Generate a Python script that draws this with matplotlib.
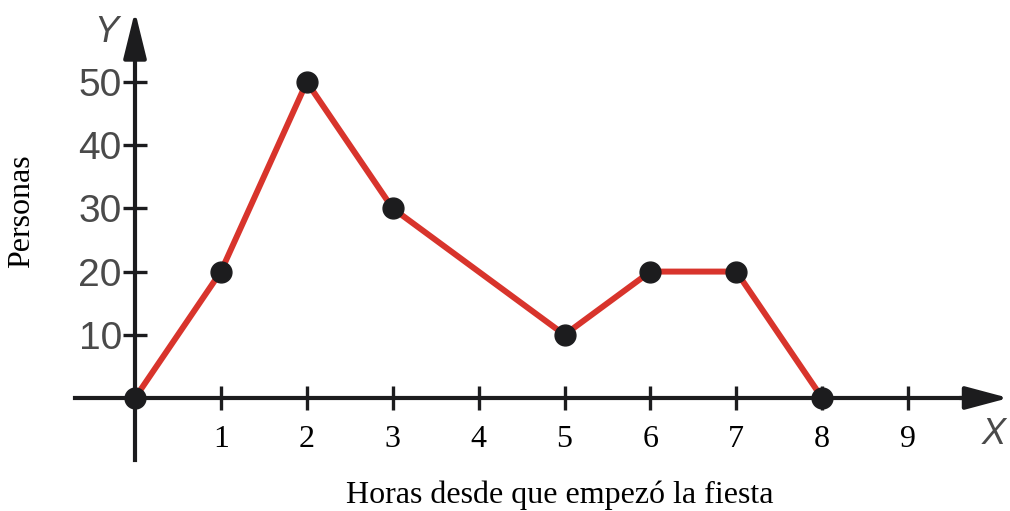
import matplotlib
matplotlib.use('Agg')
import matplotlib.pyplot as plt

# datos
horas = [0, 1, 2, 3, 5, 6, 7, 8]
personas = [0, 20, 50, 30, 10, 20, 20, 0]
x_ticks = [1, 2, 3, 4, 5, 6, 7, 8, 9]
y_ticks = [10, 20, 30, 40, 50]

AXIS = '#1c1c1e'
GRIS = '#4a4a4a'
ROJO = '#d8342c'

fig = plt.figure(figsize=(10.1, 5.11), dpi=100)
ax = fig.add_axes([0, 0, 1, 1])
ax.set_xlim(-1.5716, 10.186)
ax.set_ylim(-17.88, 62.97)
ax.patch.set_alpha(0)

# ejes cruzando en el origen
ax.spines['top'].set_visible(False)
ax.spines['right'].set_visible(False)
ax.spines['left'].set_position(('data', 0))
ax.spines['bottom'].set_position(('data', 0))
ax.spines['left'].set_bounds(-9.8, 57)
ax.spines['bottom'].set_bounds(-0.7, 9.9)
for s in ('left', 'bottom'):
    ax.spines[s].set_linewidth(3)
    ax.spines[s].set_color(AXIS)

# flechas
ax.annotate('', xy=(10.17, 0), xytext=(9.6, 0),
            arrowprops=dict(arrowstyle='-|>,head_length=1.2,head_width=0.32',
                            color=AXIS, lw=3, mutation_scale=22, shrinkA=0, shrinkB=0))
ax.annotate('', xy=(0, 61.2), xytext=(0, 54),
            arrowprops=dict(arrowstyle='-|>,head_length=1.3,head_width=0.32',
                            color=AXIS, lw=3, mutation_scale=22, shrinkA=0, shrinkB=0))

ax.set_xticks(x_ticks)
ax.set_xticklabels([str(t) for t in x_ticks], family='Liberation Serif', fontsize=23)
ax.set_yticks(y_ticks)
ax.set_yticklabels([str(t) for t in y_ticks], family='Liberation Sans', fontsize=28, color=GRIS)
ax.tick_params(axis='both', direction='inout', length=17, width=2.4, color=AXIS)
ax.tick_params(axis='x', pad=11)
ax.tick_params(axis='y', pad=1)

ax.plot(horas, personas, color=ROJO, lw=4.3, zorder=3, solid_capstyle='round')
ax.plot(horas, personas, 'o', color=AXIS, markersize=15, zorder=4)

ax.text(-0.33, 57.8, 'Y', family='Liberation Sans', style='italic', fontsize=26,
        color=GRIS, ha='center', va='center')
ax.text(10.0, -5.7, 'X', family='Liberation Sans', style='italic', fontsize=26,
        color=GRIS, ha='center', va='center')

ax.text(-1.32, 29.5, 'Personas', family='Liberation Serif', fontsize=23,
        rotation=90, ha='center', va='center')
ax.text(4.95, -15.4, 'Horas desde que empezó la fiesta', family='Liberation Serif',
        fontsize=23, ha='center', va='center')

fig.savefig('out.png', dpi=100)
